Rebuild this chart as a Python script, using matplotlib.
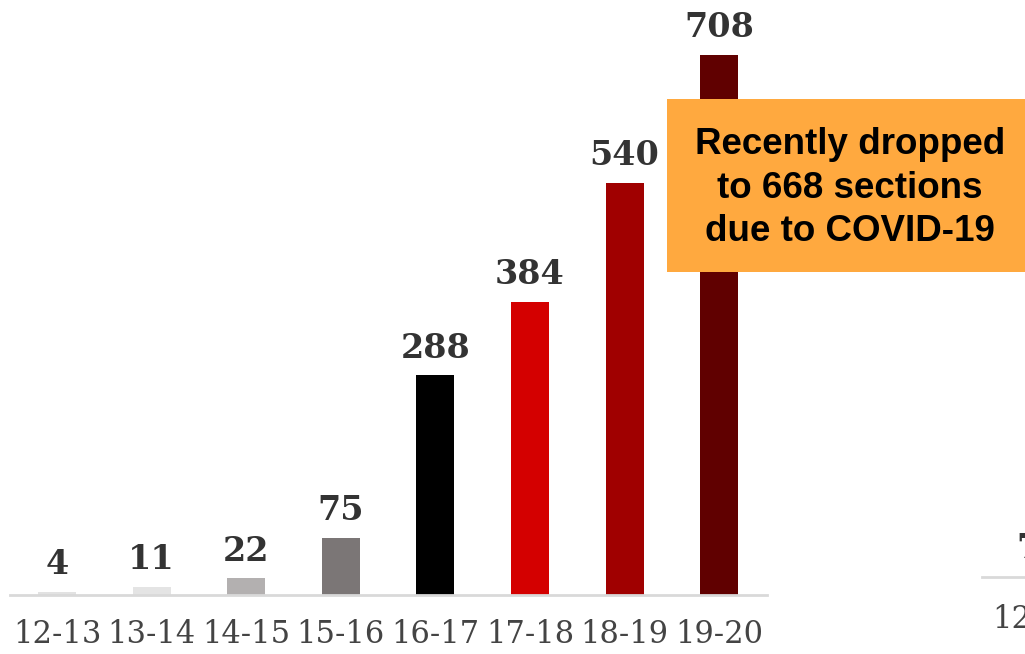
import matplotlib.pyplot as plt
from matplotlib.patches import Rectangle

# 데이터
years = ['12-13', '13-14', '14-15', '15-16', '16-17', '17-18', '18-19', '19-20']
sections = [4, 11, 22, 75, 288, 384, 540, 708]
colors = ['#e2e2e2', '#e4e4e4', '#b3b0b0', '#7b7676', '#000000', '#d40000', '#a00000', '#600000']
note = 'Recently dropped\nto 668 sections\ndue to COVID-19'

fig = plt.figure(figsize=(10.25, 6.54), dpi=100)
ax = fig.add_axes([0, 59 / 654, 1, 595 / 654])

x = list(range(len(years)))
ax.bar(x, sections, width=0.40, color=colors, zorder=2)
for i, v in zip(x, sections):
    ax.text(i, v + 14, str(v), ha='center', va='bottom', fontsize=24,
            fontweight='bold', family='DejaVu Serif', color='#333333')

ax.set_xlim(-0.6025, 10.232)
ax.set_ylim(0, 779.8)
for s in ['top', 'right', 'left']:
    ax.spines[s].set_visible(False)
ax.spines['bottom'].set_color('#d9d9d9')
ax.spines['bottom'].set_linewidth(2)
ax.spines['bottom'].set_bounds(-0.5, 7.5)
ax.set_yticks([])
ax.set_xticks(x)
ax.set_xticklabels(years, family='DejaVu Serif', fontsize=22, color='#444444')
ax.tick_params(axis='x', length=0, pad=17)

# 오른쪽 잘린 다음 차트 조각
fig.add_artist(plt.Line2D([982 / 1025, 1.0], [77 / 654, 77 / 654], color='#d9d9d9', lw=2))
fig.text(1016 / 1025, 106 / 654, '7', fontsize=24, fontweight='bold',
         family='DejaVu Serif', color='#333333', va='center', ha='left')
fig.text(992 / 1025, 34 / 654, '12', fontsize=22, family='DejaVu Serif',
         color='#444444', va='center', ha='left')

# 주석 박스
fig.add_artist(Rectangle((667 / 1025, (654 - 272) / 654), (1025 - 667) / 1025, 173 / 654,
                         transform=fig.transFigure, facecolor='#ffa93f', edgecolor='none', zorder=5))
fig.text(850 / 1025, (654 - 188) / 654, note, ha='center', va='center', fontsize=26.5,
         fontweight='bold', family='Liberation Sans', color='black', linespacing=1.3, zorder=6)

fig.savefig('out.png', dpi=100)
